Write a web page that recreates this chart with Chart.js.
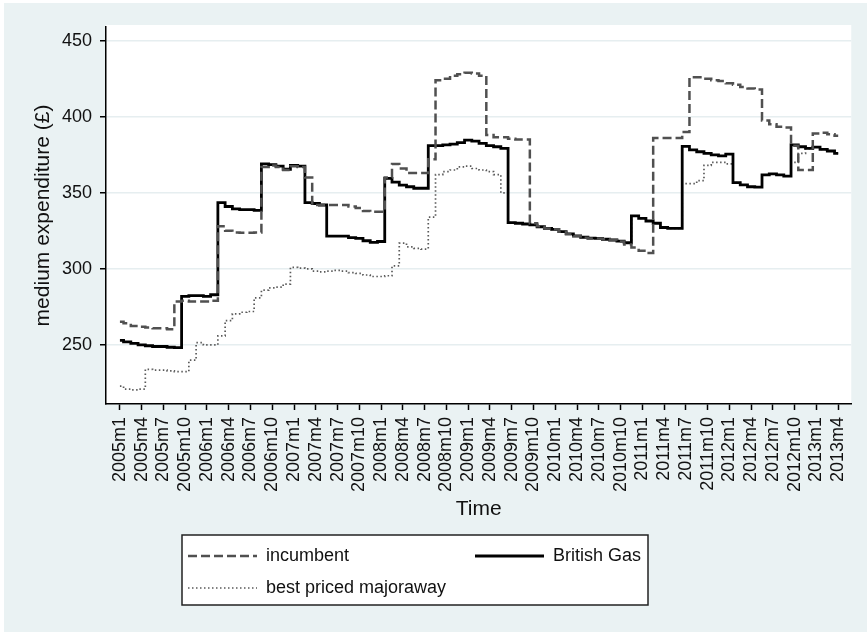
<!DOCTYPE html>
<html>
<head>
<meta charset="utf-8">
<script src="https://cdn.jsdelivr.net/npm/chart.js@4"></script>
<style>
  html, body { margin: 0; padding: 0; background: #fff; }
  canvas { display: block; }
</style>
</head>
<body>
<canvas id="chart" width="867" height="632"></canvas>
<script>
// month 0 = 2005m1, one value per month up to 2013m4
const TICK_LABELS = [
  '2005m1', '2005m4', '2005m7', '2005m10', '2006m1', '2006m4', '2006m7', '2006m10',
  '2007m1', '2007m4', '2007m7', '2007m10', '2008m1', '2008m4', '2008m7', '2008m10',
  '2009m1', '2009m4', '2009m7', '2009m10', '2010m1', '2010m4', '2010m7', '2010m10',
  '2011m1', '2011m4', '2011m7', '2011m10', '2012m1', '2012m4', '2012m7', '2012m10',
  '2013m1', '2013m4'
];
const Y_TICKS = [250, 300, 350, 400, 450];

const INCUMBENT = [
  265.3, 264.2, 262.5, 262, 261.5, 261, 261, 260.3, 278.5, 279,
  278.5, 278.5, 278.5, 279, 328, 325, 324, 323.8, 323.8, 324,
  367, 368, 367, 365, 367.5, 367, 360, 342, 342, 342,
  342, 342, 341, 340, 338, 337.5, 337.5, 360, 369, 366,
  363, 363, 363, 372, 424, 425, 427, 428, 429, 428.5,
  427, 388, 386.5, 386.5, 385.5, 385, 385, 330, 328, 326.5,
  326, 324.5, 323, 321.5, 320.5, 320, 320, 319.5, 319, 318,
  316, 314, 312, 310.5, 386, 386, 386, 386, 390, 426,
  426, 425, 424, 423.5, 422, 421, 419.5, 418.5, 418, 397.5,
  395, 393.5, 393, 381, 365, 365, 389, 389.5, 388.5, 387.5
];
const BRITISH_GAS = [
  253, 252, 251, 250, 249.5, 249, 249, 248.5, 248.3, 282,
  282.5, 282.5, 282, 283, 343.5, 341, 339.5, 339, 339, 338.5,
  369, 368.5, 367.5, 365.5, 368, 367.5, 343.5, 343, 342, 321.5,
  321.5, 321.5, 320.5, 320, 318.5, 317.5, 318, 359.5, 357, 355,
  354, 353, 353, 381, 381, 381.5, 382, 383, 384.7, 384,
  382.5, 381, 380.3, 379.2, 330.4, 330, 329.5, 329, 327.7, 326.6,
  326, 324.5, 323, 321.7, 320.8, 320.2, 320, 319.5, 319, 318.3,
  317.2, 334.8, 333.2, 331.5, 330, 327.2, 326.6, 326.6, 380.5, 378.3,
  377, 376, 375, 374.3, 375.5, 356.7, 355.2, 354, 353.7, 361.8,
  362.4, 361.8, 361, 381.5, 380.3, 379.2, 380, 378.5, 377.5, 376
];
const BEST_MAJORAWAY = [
  223, 221, 220.5, 221, 234, 233.5, 233.5, 233, 232.5, 232.5,
  240, 251.5, 250, 250, 256, 266, 270.5, 271.5, 272, 281,
  286, 287.5, 288, 290, 301, 300.5, 300, 298.5, 298, 298.5,
  299, 298.5, 297.5, 297, 296, 295, 295, 295.5, 302, 317,
  314.5, 313.5, 313, 334, 362, 364, 365, 367, 367.5, 366,
  365, 364, 362, 350, 330.4, 330, 329.5, 329, 327.7, 326.6,
  326, 324.5, 323, 321.7, 320.8, 320.2, 320, 319.5, 319, 318.3,
  317.2, 334.8, 333.2, 331.5, 330, 327.2, 326.6, 326.6, 356, 356,
  358, 368, 370, 370, 369, 356.7, 355.2, 354, 353.7, 361.8,
  362.4, 361.8, 361, 370, 376, 379, 380, 378.5, 377.5, 376
];

const FONT = "'Liberation Sans', Arial, sans-serif";
const TEXT = '#111';
const BG = '#eaf2f3';

function toPoints(values) {
  return values.map((v, i) => ({ x: i, y: v }));
}

// light blue page with a white plot region
const background = {
  id: 'background',
  beforeDraw(chart) {
    const { ctx, width, height, chartArea } = chart;
    ctx.save();
    ctx.fillStyle = BG;
    ctx.fillRect(4, 3, width - 4, height - 3);
    ctx.fillStyle = '#fff';
    ctx.fillRect(chartArea.left, chartArea.top - 2, chartArea.right - chartArea.left, chartArea.bottom - chartArea.top + 2);
    ctx.restore();
  }
};

// boxed legend, two columns like the original
const boxLegend = {
  id: 'boxLegend',
  afterDraw(chart) {
    const { ctx } = chart;
    ctx.save();
    ctx.fillStyle = '#fff';
    ctx.fillRect(182, 535, 466, 70);
    ctx.strokeStyle = '#222';
    ctx.lineWidth = 1.5;
    ctx.strokeRect(182, 535, 466, 70);
    chart.data.datasets.forEach((ds, k) => {
      const x0 = k % 2 ? 475 : 188;
      const y = Math.floor(k / 2) ? 588 : 556;
      ctx.beginPath();
      ctx.setLineDash(ds.borderDash || []);
      ctx.strokeStyle = ds.borderColor;
      ctx.lineWidth = ds.borderWidth;
      ctx.moveTo(x0, y);
      ctx.lineTo(x0 + 69, y);
      ctx.stroke();
      ctx.setLineDash([]);
      ctx.fillStyle = TEXT;
      ctx.font = '18px ' + FONT;
      ctx.textBaseline = 'middle';
      ctx.fillText(ds.label, x0 + 78, y);
    });
    ctx.restore();
  }
};

new Chart(document.getElementById('chart'), {
  type: 'line',
  data: {
    datasets: [
      {
        label: 'incumbent',
        data: toPoints(INCUMBENT),
        borderColor: '#505050',
        borderWidth: 2.5,
        borderDash: [9, 4]
      },
      {
        label: 'British Gas',
        data: toPoints(BRITISH_GAS),
        borderColor: '#000',
        borderWidth: 2.8
      },
      {
        label: 'best priced majoraway',
        data: toPoints(BEST_MAJORAWAY),
        borderColor: '#5a5a5a',
        borderWidth: 1.7,
        borderDash: [1.5, 2.5]
      }
    ]
  },
  options: {
    responsive: false,
    animation: false,
    elements: { point: { radius: 0 }, line: { tension: 0, stepped: 'middle' } },
    layout: { padding: { left: 31, top: 27, right: 12, bottom: 110 } },
    plugins: { legend: { display: false }, tooltip: { enabled: false } },
    scales: {
      x: {
        type: 'linear',
        min: -1.92,
        max: 100.8,
        afterBuildTicks: (s) => { s.ticks = TICK_LABELS.map((_, k) => ({ value: k * 3 })); },
        afterFit: (s) => { s.height = 118; },
        ticks: {
          autoSkip: false,
          minRotation: 90,
          maxRotation: 90,
          padding: 7,
          color: TEXT,
          font: { family: FONT, size: 18 },
          callback: (v) => TICK_LABELS[Math.round(v / 3)]
        },
        grid: { drawOnChartArea: false, tickLength: 6, tickColor: '#000', tickWidth: 1.5 },
        border: { color: '#000', width: 1.5 },
        title: { display: true, text: 'Time', color: TEXT, font: { family: FONT, size: 21 }, padding: 0 }
      },
      y: {
        min: 211.2,
        max: 459,
        afterBuildTicks: (s) => { s.ticks = Y_TICKS.map((v) => ({ value: v })); },
        afterFit: (s) => { s.width = 75; },
        ticks: { padding: 8, color: TEXT, font: { family: FONT, size: 18 } },
        grid: { color: '#e6eef0', lineWidth: 1.5, tickLength: 6, tickColor: '#000', tickWidth: 1.5 },
        border: { color: '#000', width: 1.5 },
        title: { display: true, text: 'medium expenditure (£)', color: TEXT, font: { family: FONT, size: 21 }, padding: 0 }
      }
    }
  },
  plugins: [background, boxLegend]
});
</script>
</body>
</html>
